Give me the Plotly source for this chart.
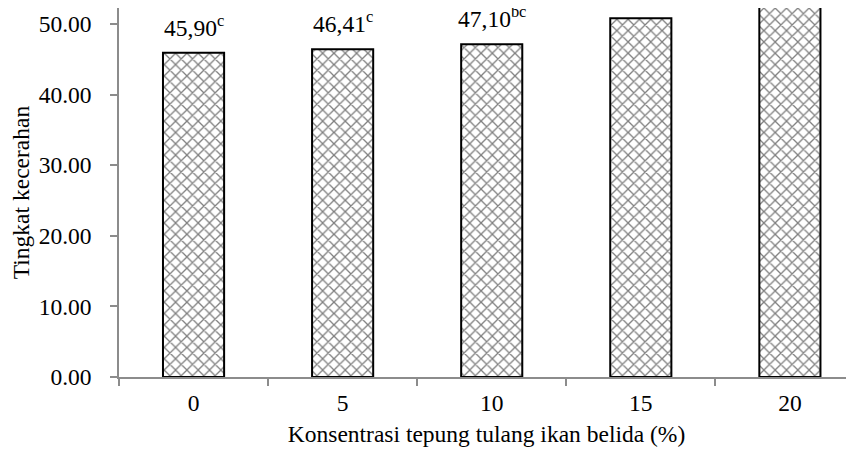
import plotly.graph_objects as go

categories = ["0", "5", "10", "15", "20"]
values = [45.90, 46.41, 47.10, 50.80, 53.50]
labels = ["45,90<sup>c</sup>", "46,41<sup>c</sup>", "47,10<sup>bc</sup>", "", ""]
y_ticks = [0, 10, 20, 30, 40, 50]
y_ticklabels = ["0.00", "10.00", "20.00", "30.00", "40.00", "50.00"]

FONT = "Liberation Serif, serif"
FS = 23.5

fig = go.Figure()
fig.add_trace(go.Bar(
    x=categories, y=values, width=0.41,
    marker=dict(
        color="white",
        line=dict(color="black", width=2),
        pattern=dict(shape="x", size=8, solidity=0.3, fgcolor="black", bgcolor="white"),
    ),
    showlegend=False,
))

for i, (v, t) in enumerate(zip(values, labels)):
    if t:
        fig.add_annotation(x=i, y=v, text=t, showarrow=False, yanchor="bottom",
                           yshift=10, font=dict(family=FONT, size=FS, color="black"))

fig.update_layout(
    width=846, height=446,
    margin=dict(l=111, r=0, t=0, b=77),
    paper_bgcolor="white", plot_bgcolor="white",
    font=dict(family=FONT, size=FS, color="black"),
)
fig.update_xaxes(
    type="category", range=[-0.5, 4.43],
    showline=True, linecolor="#8c8c8c", linewidth=1.5,
    ticks="outside", tickson="boundaries", ticklen=7, tickcolor="#8c8c8c", tickwidth=1.5,
    showgrid=False, zeroline=False, automargin=False,
    tickfont=dict(family=FONT, size=FS, color="black"), ticklabelstandoff=4,
    title=dict(text="Konsentrasi tepung tulang ikan belida (%)", font=dict(family=FONT, size=FS), standoff=11),
)
fig.update_yaxes(
    range=[0, 52.25],
    tickvals=y_ticks, ticktext=y_ticklabels,
    showline=True, linecolor="#8c8c8c", linewidth=1.5,
    ticks="outside", ticklen=7, tickcolor="#8c8c8c", tickwidth=1.5,
    showgrid=False, zeroline=False, automargin=False,
    tickfont=dict(family=FONT, size=FS, color="black"), ticklabelstandoff=14,
    title=dict(text="Tingkat kecerahan", font=dict(family=FONT, size=FS), standoff=12),
)

fig.write_html("out.html")
